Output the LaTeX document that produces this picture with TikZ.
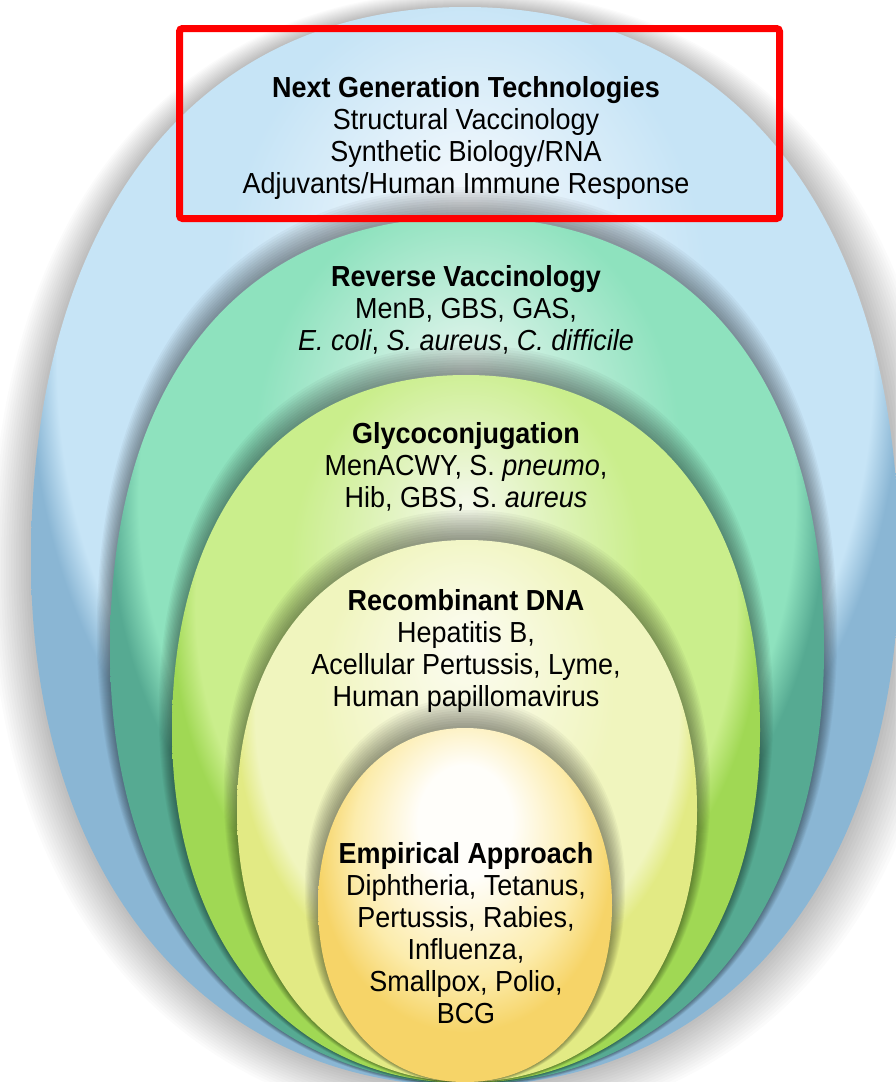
\documentclass[tikz,border=0pt]{standalone}
\usepackage{fontspec}
\setmainfont{Liberation Sans}[FakeStretch=0.93]
\usetikzlibrary{fadings}

% colours
\definecolor{bA}{RGB}{246,250,253}\definecolor{bB}{RGB}{198,228,246}\definecolor{bC}{RGB}{138,182,212}
\definecolor{tA}{RGB}{232,246,240}\definecolor{tB}{RGB}{142,226,190}\definecolor{tC}{RGB}{86,170,146}
\definecolor{lA}{RGB}{244,248,234}\definecolor{lB}{RGB}{202,238,140}\definecolor{lC}{RGB}{160,216,84}
\definecolor{pA}{RGB}{252,252,242}\definecolor{pB}{RGB}{240,245,190}\definecolor{pC}{RGB}{226,234,132}
\definecolor{eA}{RGB}{255,254,250}\definecolor{eB}{RGB}{252,236,172}\definecolor{eC}{RGB}{246,212,104}
\definecolor{boxred}{RGB}{255,0,0}

\pgfdeclareradialshading{shO}{\pgfpoint{0bp}{16bp}}{color(0bp)=(bA); color(14bp)=(bB); color(23.5bp)=(bB); color(25bp)=(bC); color(50bp)=(bC)}
\pgfdeclareradialshading{shT}{\pgfpoint{0bp}{16bp}}{color(0bp)=(tA); color(15bp)=(tB); color(23bp)=(tB); color(25bp)=(tC); color(50bp)=(tC)}
\pgfdeclareradialshading{shL}{\pgfpoint{0bp}{16bp}}{color(0bp)=(lA); color(15bp)=(lB); color(23bp)=(lB); color(25bp)=(lC); color(50bp)=(lC)}
\pgfdeclareradialshading{shP}{\pgfpoint{0bp}{16bp}}{color(0bp)=(pA); color(16bp)=(pB); color(23bp)=(pB); color(25bp)=(pC); color(50bp)=(pC)}
\pgfdeclareradialshading{shE}{\pgfpoint{0bp}{14bp}}{color(0bp)=(eA); color(8bp)=(eA); color(19bp)=(eB); color(25bp)=(eC); color(50bp)=(eC)}

% egg-shaped outline: cx, top, bottom, half width, y of widest, top roundness
\newcommand{\eggp}[6]{%
 ({#1},{#3}) .. controls ({(#1)-0.6*(#4)},{#3}) and ({(#1)-(#4)},{(#5)+0.6*((#3)-(#5))}) .. ({(#1)-(#4)},{#5})
 .. controls ({(#1)-(#4)},{(#5)-(#6)*((#5)-(#2))}) and ({(#1)-(#6)*(#4)},{#2}) .. ({#1},{#2})
 .. controls ({(#1)+(#6)*(#4)},{#2}) and ({(#1)+(#4)},{(#5)-(#6)*((#5)-(#2))}) .. ({(#1)+(#4)},{#5})
 .. controls ({(#1)+(#4)},{(#5)+0.6*((#3)-(#5))}) and ({(#1)+0.6*(#4)},{#3}) .. ({#1},{#3}) -- cycle}

% soft shadow cast by an inner layer onto the layer around it
\newcommand{\eggshadow}[6]{%
 \foreach \i in {1,...,12}{%
  \fill[black, opacity=0.034] \eggp{#1}{(#2)-2.5*\i}{(#3)+0.2*\i}{(#4)+1.1*\i}{(#5)-1.4*\i}{#6};
 }}
% soft drop shadow of the whole figure
\newcommand{\dropshadow}[6]{%
 \foreach \i in {1,...,16}{%
  \fill[black, opacity=0.014] \eggp{(#1)+0.3*\i}{(#2)-1.0*\i}{(#3)+2.5*\i}{(#4)+2.8*\i}{(#5)+0.8*\i}{#6};
 }}

\tikzset{
 lbl/.style={font=\fontsize{29}{32}\selectfont, align=center, inner sep=0pt, text=black, anchor=base},
 redbox/.style={draw=boxred, line width=7pt, rounded corners=3pt, minimum width=600pt, minimum height=190pt, inner sep=0pt}
}

\begin{document}
\begin{tikzpicture}[x=1pt, y={(0pt,-1pt)}]
\fill[white] (0,0) rectangle (895,1082);
\useasboundingbox (0,0) rectangle (895,1082);

% outer layer (next generation technologies)
\dropshadow{465}{7}{1086}{434}{560}{0.62}
\shade[shading=shO] \eggp{465}{7}{1086}{434}{560}{0.62};
% reverse vaccinology
\eggshadow{467}{217}{1084}{357}{650}{0.63}
\shade[shading=shT] \eggp{467}{217}{1084}{357}{650}{0.63};
% glycoconjugation
\eggshadow{466}{375}{1083}{294}{730}{0.62}
\shade[shading=shL] \eggp{466}{375}{1083}{294}{730}{0.62};
% recombinant DNA
\eggshadow{467}{540}{1082}{230}{810}{0.60}
\shade[shading=shP] \eggp{467}{540}{1082}{230}{810}{0.60};
% empirical approach
\eggshadow{465}{728}{1082}{147}{905}{0.58}
\shade[shading=shE] \eggp{465}{728}{1082}{147}{905}{0.58};

\node[lbl] (ng) at (466,193) {\textbf{Next Generation Technologies}\\Structural Vaccinology\\Synthetic Biology/RNA\\Adjuvants/Human Immune Response};
\node[lbl] (rv) at (466,350) {\textbf{Reverse Vaccinology}\\MenB, GBS, GAS,\\\textit{E. coli}, \textit{S. aureus}, \textit{C. difficile}};
\node[lbl] (gc) at (466,507) {\textbf{Glycoconjugation}\\MenACWY, S. \textit{pneumo},\\Hib, GBS, S. \textit{aureus}};
\node[lbl] (rd) at (466,706) {\textbf{Recombinant DNA}\\Hepatitis B,\\Acellular Pertussis, Lyme,\\Human papillomavirus};
\node[lbl] (ea) at (466,1023) {\textbf{Empirical Approach}\\Diphtheria, Tetanus,\\Pertussis, Rabies,\\Influenza,\\Smallpox, Polio,\\BCG};

\node[redbox] (box) at (479.5,123.5) {};
\end{tikzpicture}
\end{document}
